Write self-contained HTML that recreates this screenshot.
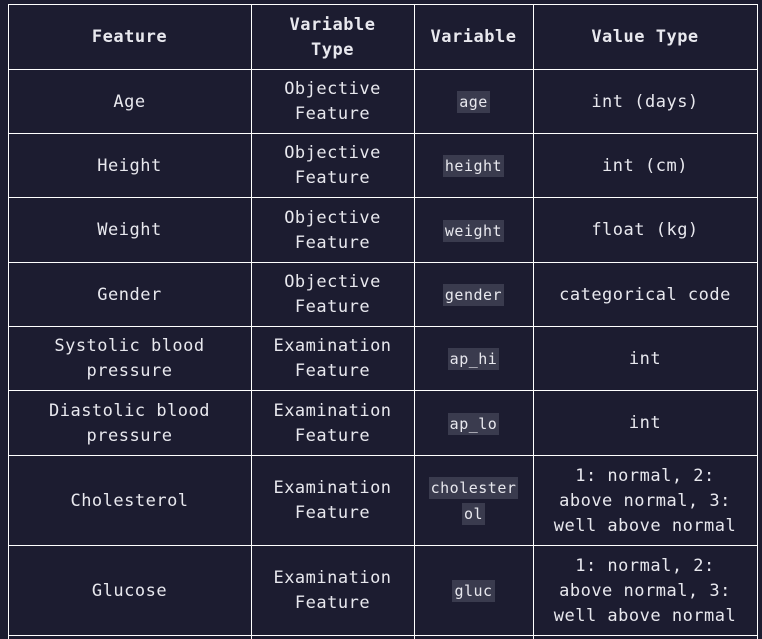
<!DOCTYPE html>
<html><head><style>
html,body{margin:0;padding:0;background:#1c1c30;width:762px;height:639px;overflow:hidden}
.c{position:absolute;box-sizing:border-box;display:flex;align-items:center;justify-content:center;text-align:center;color:#e8e8ee;font-family:"DejaVu Sans Mono","Liberation Mono",monospace;font-size:17px;letter-spacing:0.5px;line-height:25px;padding-top:2px}
.h{font-weight:bold}
code{font-family:"DejaVu Sans Mono",monospace;font-size:15px;letter-spacing:0.5px;background:#3a3b4e;padding:2px 2px;line-height:26px;-webkit-box-decoration-break:clone;box-decoration-break:clone}
.ln{position:absolute;background:#fff}
#t{position:absolute;left:0;top:0;width:762px;height:639px;overflow:hidden}
</style></head><body>
<div id="t"></div>
<script>
var X=[8,251,414,533,757],Y=[4,69,133,197,262,326,390,455,545,635,639];
var rows=[
["<span class=h>Feature</span>","<span class=h>Variable<br>Type</span>","<span class=h>Variable</span>","<span class=h>Value Type</span>"],
["Age","Objective<br>Feature","<code>age</code>","int (days)"],
["Height","Objective<br>Feature","<code>height</code>","int (cm)"],
["Weight","Objective<br>Feature","<code>weight</code>","float (kg)"],
["Gender","Objective<br>Feature","<code>gender</code>","categorical code"],
["Systolic blood<br>pressure","Examination<br>Feature","<code>ap_hi</code>","int"],
["Diastolic blood<br>pressure","Examination<br>Feature","<code>ap_lo</code>","int"],
["Cholesterol","Examination<br>Feature","<code>cholester</code><br><code>ol</code>","1: normal, 2:<br>above normal, 3:<br>well above normal"],
["Glucose","Examination<br>Feature","<code>gluc</code>","1: normal, 2:<br>above normal, 3:<br>well above normal"]];
var h="";
for(var r=0;r<rows.length;r++)for(var c=0;c<4;c++){
h+='<div class="c'+(r==0?' h':'')+'" style="left:'+X[c]+'px;top:'+Y[r]+'px;width:'+(X[c+1]-X[c])+'px;height:'+(Y[r+1]-Y[r])+'px"><div>'+rows[r][c]+'</div></div>';}
for(var i=0;i<X.length;i++)h+='<div class=ln style="left:'+X[i]+'px;top:4px;width:1px;height:635px"></div>';
for(var j=0;j<Y.length-1;j++)h+='<div class=ln style="left:8px;top:'+Y[j]+'px;width:750px;height:1px"></div>';
document.getElementById('t').innerHTML=h;
</script>
</body></html>
